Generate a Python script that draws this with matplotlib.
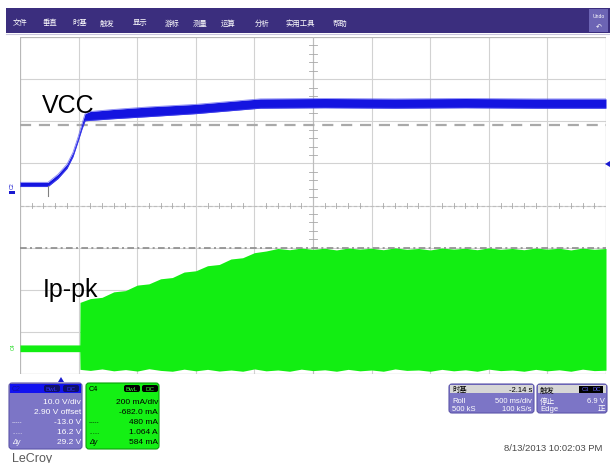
import matplotlib
matplotlib.use("Agg")
import matplotlib.pyplot as plt
from matplotlib.patches import Rectangle, FancyBboxPatch, Polygon

plt.rcParams['font.family'] = ['Liberation Sans', 'Noto Sans CJK SC', 'DejaVu Sans']
CJK = ['Noto Sans CJK SC', 'DejaVu Sans']

# ---- acquisition settings ----
time_div = 0.5          # s/div (500 ms/div)
c2_vdiv = 10.0          # V/div
c2_offset = 2.90        # V
c4_adiv = 0.200         # A/div
c4_offset = -0.682      # A
c2_cursors = [-13.0, 16.2]   # V

# ---- C2: VCC envelope (s, V) ----
vcc_t  = [0.0, 0.239, 0.324, 0.401, 0.452, 0.495, 0.529, 0.555, 0.597, 0.80, 1.10, 1.50, 2.05, 2.60, 3.20, 3.80, 4.40, 5.0]
vcc_hi = [2.6, 2.6, 4.5, 6.9, 9.7, 13.3, 16.5, 18.9, 19.4, 19.9, 20.5, 21.1, 22.4, 22.5, 22.4, 22.5, 22.4, 22.4]
vcc_lo = [1.6, 1.6, 3.5, 5.9, 8.7, 12.3, 15.3, 17.2, 17.3, 17.7, 18.2, 18.9, 20.2, 20.3, 20.2, 20.3, 20.2, 20.2]

# ---- C4: primary current envelope (s, A) ----
ip_t  = [0.0, 0.510, 0.512, 0.6, 0.7, 0.8, 0.9, 1.0, 1.1, 1.2, 1.3, 1.4, 1.5, 1.6, 1.7, 1.8, 1.9,
         2.0, 2.1, 2.2, 2.3, 2.4, 2.5, 2.6, 2.7, 2.8, 2.9, 3.0, 3.1, 3.2, 3.3, 3.4, 3.5,
         3.6, 3.7, 3.8, 3.9, 4.0, 4.1, 4.2, 4.3, 4.4, 4.5, 4.6, 4.7, 4.8, 4.9, 5.0]
ip_hi = [0.020, 0.020, 0.222, 0.240, 0.246, 0.272, 0.278, 0.304, 0.310, 0.334, 0.340, 0.366, 0.372,
         0.396, 0.402, 0.428, 0.434, 0.458, 0.466, 0.478, 0.472, 0.480, 0.474, 0.479, 0.471, 0.480,
         0.475, 0.479, 0.472, 0.481, 0.474, 0.478, 0.471, 0.480, 0.475, 0.479, 0.472, 0.481, 0.474,
         0.478, 0.472, 0.480, 0.475, 0.479, 0.471, 0.480, 0.474, 0.478]
ip_lo = [-0.012, -0.012, -0.096, -0.101, -0.094, -0.103, -0.097, -0.104, -0.093, -0.101, -0.105,
         -0.095, -0.103, -0.096, -0.104, -0.099, -0.105, -0.094, -0.103, -0.099, -0.105, -0.095,
         -0.102, -0.098, -0.105, -0.096, -0.103, -0.099, -0.105, -0.094, -0.101, -0.099, -0.105,
         -0.096, -0.103, -0.098, -0.105, -0.095, -0.102, -0.099, -0.105, -0.096, -0.103, -0.098,
         -0.105, -0.095, -0.102, -0.100]

# ---- labels ----
menu_items = ['文件', '垂直', '时基', '触发', '显示', '游标', '测量', '运算', '分析', '实用工具', '帮助']
menu_x = [13, 43, 72, 100, 133, 165, 193, 221, 255, 285, 333]
c2_lines = ['10.0 V/div', '2.90 V offset', '-13.0 V', '16.2 V', '29.2 V']
c4_lines = ['200 mA/div', '-682.0 mA', '480 mA', '1.064 A', '584 mA']
tb_lines = [('Roll', '500 ms/div'), ('500 kS', '100 kS/s')]
trig_lines = [('停止', '6.9 V'), ('Edge', '正')]
stamp = '8/13/2013 10:02:03 PM'

W, H = 610, 464
fig = plt.figure(figsize=(W / 100, H / 100), dpi=100)
fig.patch.set_facecolor('white')

# chrome layer in pixel coordinates
bg = fig.add_axes([0, 0, 1, 1])
bg.set_xlim(0, W)
bg.set_ylim(H, 0)
bg.axis('off')

# menu bar
bg.add_patch(Rectangle((6, 9), 604, 25, color='#3b2e7e', lw=0))
bg.plot([6, 610], [35, 35], color='#c9c6dc', lw=0.8)
for name, x in zip(menu_items, menu_x):
    bg.text(x, 25.5, name, color='white', fontsize=5.3, va='baseline', ha='left', family=CJK)
bg.add_patch(Rectangle((589, 10), 19, 23, color='#6c64b4', lw=0))
bg.text(598.5, 17, 'Undo', color='white', fontsize=3.6, ha='center', va='center')
bg.text(598.5, 27, '↶', color='white', fontsize=5, ha='center', va='center',
        family=['DejaVu Sans'])

# scope area
left, top, right, bottom = 20, 38, 606, 375
pos = [left / W, 1 - bottom / H, (right - left) / W, (bottom - top) / H]

grid = fig.add_axes(pos)
grid.set_xlim(0, 10)
grid.set_ylim(-4, 4)
grid.axis('off')
gcol = '#d2d2d2'
for k in range(1, 10):
    grid.axvline(k, color=gcol, lw=0.8)
for k in range(-3, 4):
    grid.axhline(k, color=gcol, lw=0.8)
for s in [0, 10]:
    grid.axvline(s, color='#b8b8b8', lw=0.9)
for s in [-4, 4]:
    grid.axhline(s, color='#b8b8b8', lw=0.9)
grid.axhline(0, color='#bdbdbd', lw=0.8, ls=(0, (3, 2)))
grid.axvline(5, color='#bdbdbd', lw=0.8)
for k in range(1, 50):
    if k % 5:
        grid.plot([k / 5, k / 5], [-0.06, 0.06], color='#a8a8a8', lw=0.6)
for k in range(-19, 20):
    if k % 5:
        grid.plot([4.93, 5.07], [k / 5, k / 5], color='#a8a8a8', lw=0.6)

# C4 current
ax_i = fig.add_axes(pos, frameon=False)
ax_i.set_xlim(0, 10 * time_div)
ax_i.set_ylim(-c4_offset - 4 * c4_adiv, -c4_offset + 4 * c4_adiv)
ax_i.axis('off')
ax_i.fill_between(ip_t, ip_lo, ip_hi, color='#12ee12', lw=0)

# C2 voltage + cursors
ax_v = fig.add_axes(pos, frameon=False)
ax_v.set_xlim(0, 10 * time_div)
ax_v.set_ylim(-c2_offset - 4 * c2_vdiv, -c2_offset + 4 * c2_vdiv)
ax_v.axis('off')
ax_v.axhline(c2_cursors[1], color='#a9a9a9', lw=1.6, ls=(0, (5, 3.5)), zorder=1)
ax_v.axhline(c2_cursors[0], color='#8c8c8c', lw=1.2, ls=(0, (4, 2, 1.2, 2)), zorder=3)
ax_v.fill_between(vcc_t, vcc_lo, vcc_hi, color='#1414e0', lw=0, zorder=2)
ax_v.plot(vcc_t, vcc_hi, color='#5050f0', lw=0.6, alpha=0.7, zorder=2)
ax_v.plot(vcc_t, vcc_lo, color='#5050f0', lw=0.6, alpha=0.7, zorder=2)

# overlay: labels and markers
ov = fig.add_axes([0, 0, 1, 1], frameon=False)
ov.set_xlim(0, W)
ov.set_ylim(H, 0)
ov.axis('off')
ov.text(42, 113, 'VCC', fontsize=18, color='black', va='baseline', ha='left')
ov.text(43, 297, 'Ip-pk', fontsize=18, color='black', va='baseline', ha='left')
ov.text(12, 186, 'C2', fontsize=3.8, color='#1a1ad0', rotation=90, ha='center', va='center')
ov.add_patch(Rectangle((9, 192), 6, 2.5, color='#1a1ad0', lw=0))
ov.text(13, 347, 'C4', fontsize=3.8, color='#18d818', rotation=90, ha='center', va='center')
ov.plot([48, 48], [187, 197], color='#808080', lw=0.8)
ov.add_patch(Polygon([[610, 162], [610, 168], [605, 165]], color='#1a1ad0', lw=0))
ov.add_patch(Polygon([[58, 383], [64, 383], [61, 378]], color='#1a1ad0', lw=0))

# channel info boxes
purple = '#7c75c6'
fs = 6.0


def box(x0, y0, x1, y1, face, edge):
    bg.add_patch(FancyBboxPatch((x0, y0), x1 - x0, y1 - y0,
                                boxstyle='round,pad=0,rounding_size=3',
                                fc=face, ec=edge, lw=0.8))


# C2 box
box(9, 384, 82, 450, purple, '#5d55aa')
bg.add_patch(Rectangle((10, 385), 71, 9, color='#1212f0', lw=0))
bg.text(12, 389.5, 'C2', color='#1212a0', fontsize=5, va='center')
for lbl, x in [('BwL', 52), ('DC', 71)]:
    bg.add_patch(FancyBboxPatch((x - 8, 386), 16, 7, boxstyle='round,pad=0,rounding_size=2',
                                fc='#10106a', ec='none'))
    bg.text(x, 389.5, lbl, color='#3030ff', fontsize=4.5, ha='center', va='center')
ys = [403, 413, 423, 433, 443]
for y, s in zip(ys, c2_lines):
    bg.text(81, y, s, color='white', fontsize=fs, ha='right', va='center')
bg.text(12, 423, '-----', color='white', fontsize=4.5, va='center')
bg.text(12, 433, '......', color='white', fontsize=4.5, va='center')
bg.text(12, 443, 'Δy', color='white', fontsize=5, style='italic', va='center')

# C4 box
box(86, 384, 159, 450, '#14f014', '#0ca00c')
bg.text(89, 389.5, 'C4', color='black', fontsize=5.2, va='center')
for lbl, x in [('BwL', 132), ('DC', 150)]:
    bg.add_patch(FancyBboxPatch((x - 8, 386), 16, 7, boxstyle='round,pad=0,rounding_size=2',
                                fc='black', ec='none'))
    bg.text(x, 389.5, lbl, color='#30ff30', fontsize=4.5, ha='center', va='center')
for y, s in zip(ys, c4_lines):
    bg.text(158, y, s, color='black', fontsize=fs, ha='right', va='center')
bg.text(89, 423, '-----', color='black', fontsize=4.5, va='center')
bg.text(89, 433, '......', color='black', fontsize=4.5, va='center')
bg.text(89, 443, 'Δy', color='black', fontsize=5, style='italic', va='center')

# timebase box
fs2 = 5.5
box(449, 385, 534, 414, purple, '#5d55aa')
bg.add_patch(Rectangle((450, 386), 83, 8, color='#d6d6d6', lw=0))
bg.text(452, 392.5, '时基', color='black', fontsize=5.3, va='baseline', family=CJK)
bg.text(532, 392.5, '-2.14 s', color='black', fontsize=fs2, ha='right', va='baseline')
for y, (a, b) in zip([403.5, 411.5], tb_lines):
    bg.text(452, y, a, color='white', fontsize=fs2, va='baseline')
    bg.text(532, y, b, color='white', fontsize=fs2, ha='right', va='baseline')

# trigger box
box(537, 385, 607, 414, purple, '#5d55aa')
bg.add_patch(Rectangle((538, 386), 68, 8, color='#d6d6d6', lw=0))
bg.text(540, 392.5, '触发', color='black', fontsize=5.3, va='baseline', family=CJK)
for lbl, x in [('C3', 585), ('DC', 597)]:
    bg.add_patch(Rectangle((x - 6, 386.5), 11.5, 7, color='black', lw=0))
    bg.text(x, 390, lbl, color='#6060ff', fontsize=4.2, ha='center', va='center')
for y, (a, b) in zip([403.5, 411.5], trig_lines):
    bg.text(540, y, a, color='white', fontsize=fs2, va='baseline')
    bg.text(605, y, b, color='white', fontsize=fs2, ha='right', va='baseline')

# footer
bg.text(602, 449, stamp, color='#4a4a4a', fontsize=6.8, ha='right', va='center')
bg.text(12, 459, 'LeCroy', color='#5a5a5a', fontsize=9, ha='left', va='center')

fig.savefig('out.png', dpi=100)
